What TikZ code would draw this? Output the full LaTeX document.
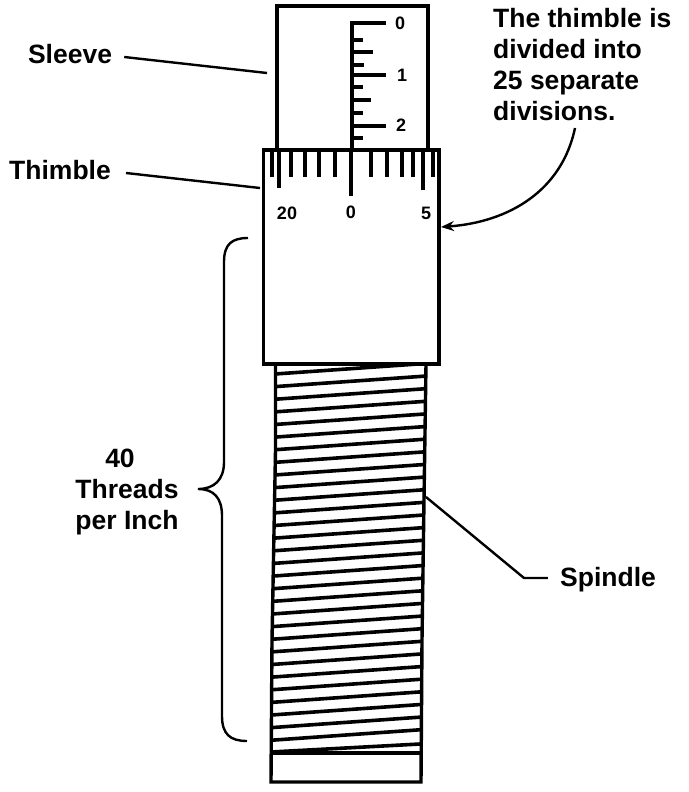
\documentclass[tikz,border=0pt]{standalone}
\usepackage{fontspec}
\setmainfont{Liberation Sans}
\usetikzlibrary{arrows.meta}
\tikzset{
  part/.style={draw=black,line width=3.4pt,line join=miter},
  tick/.style={draw=black,line width=3.2pt},
  thread/.style={draw=black,line width=3.6pt},
  leader/.style={draw=black,line width=2.4pt},
  lab/.style={font=\fontsize{26.5}{31}\selectfont\bfseries,inner sep=0pt,align=center},
  num/.style={font=\fontsize{18}{20}\selectfont\bfseries,inner sep=0pt},
}
\begin{document}
\begin{tikzpicture}[x=1pt,y=-1pt]
\useasboundingbox (0,0) rectangle (688,792);
\fill[white] (0,0) rectangle (688,792);
% spindle threads
\foreach \i in {0,...,29}{
  \pgfmathsetmacro{\yl}{374+12.63*\i}
  \pgfmathsetmacro{\xl}{275-0.138*\i}
  \pgfmathsetmacro{\xr}{425-0.17*\i}
  \draw[thread] (\xl,\yl) -- (\xr,\yl-10.5);
}
\draw[thread] (271,752) -- (420,744);
\draw[part] (275.5,364) -- (275.5,450) -- (272,640) -- (271,782) -- (421,782) -- (422,640) -- (424,500) -- (426,364);
\draw[part] (271,753) -- (421,753);
% sleeve and thimble
\draw[part] (277,150) -- (277,6) -- (428,6) -- (428,150);
\draw[part,fill=white] (263.5,150) rectangle (439,364);
% sleeve scale
\draw[part] (386,23) -- (352,23) -- (352,150);
\foreach \y/\x in {40/363,52/373,65/364,75/386,87/363,100/371,113/363,126/386,138/363}
  \draw[tick] (352,\y) -- (\x,\y);
\node[num] (s0) at (400,23) {0};
\node[num] (s1) at (402,75) {1};
\node[num] (s2) at (401,125) {2};
% thimble scale
\foreach \x/\y in {272/177,279/188,291/177,305/177,319/177,335/177,351/196,371/177,387/177,402/177,413/177,423/190,433/177}
  \draw[tick] (\x,150) -- (\x,\y);
\node[num] (t20) at (287,213) {20};
\node[num] (t0) at (351,212) {0};
\node[num] (t5) at (426,213) {5};
% labels
\node[lab] (sleeve) at (70,54) {Sleeve};
\node[lab] (thimble) at (60,170) {Thimble};
\node[lab] (spindle) at (608,580) {Spindle};
\node[lab,align=left,anchor=north west] (note) at (493,8) {The thimble is\\divided into\\25 separate\\divisions.};
\node[lab] (threads) at (127,492) {40\hspace*{14pt}\\Threads\\per Inch};
% connectors
\coordinate (sleeveEnd) at (267,73);
\coordinate (thimbleEnd) at (260,188);
\coordinate (noteStart) at (575,128);
\coordinate (thimbleEdge) at (441,227);
\coordinate (spindleEdge) at (426,497);
\coordinate (spindleBend) at (524,578);
\draw[leader] (sleeve.east) ++(12,3) -- (sleeveEnd);
\draw[leader] (thimble.east) ++(15,3) -- (thimbleEnd);
\draw[leader,-{Stealth[length=13pt,width=10pt]}] (noteStart) .. controls (562,190) and (510,222) .. (thimbleEdge);
\draw[leader] (spindleEdge) -- (spindleBend) -- ([xshift=-12pt,yshift=2pt]spindle.west);
% brace
\draw[leader] (248,238) .. controls (232,238) and (224,244) .. (224,262)
  -- (224,462) .. controls (224,480) and (214,489) .. (198,489)
  .. controls (214,489) and (222,498) .. (222,516)
  -- (222,716) .. controls (222,734) and (230,741) .. (247,741);
\end{tikzpicture}
\end{document}
